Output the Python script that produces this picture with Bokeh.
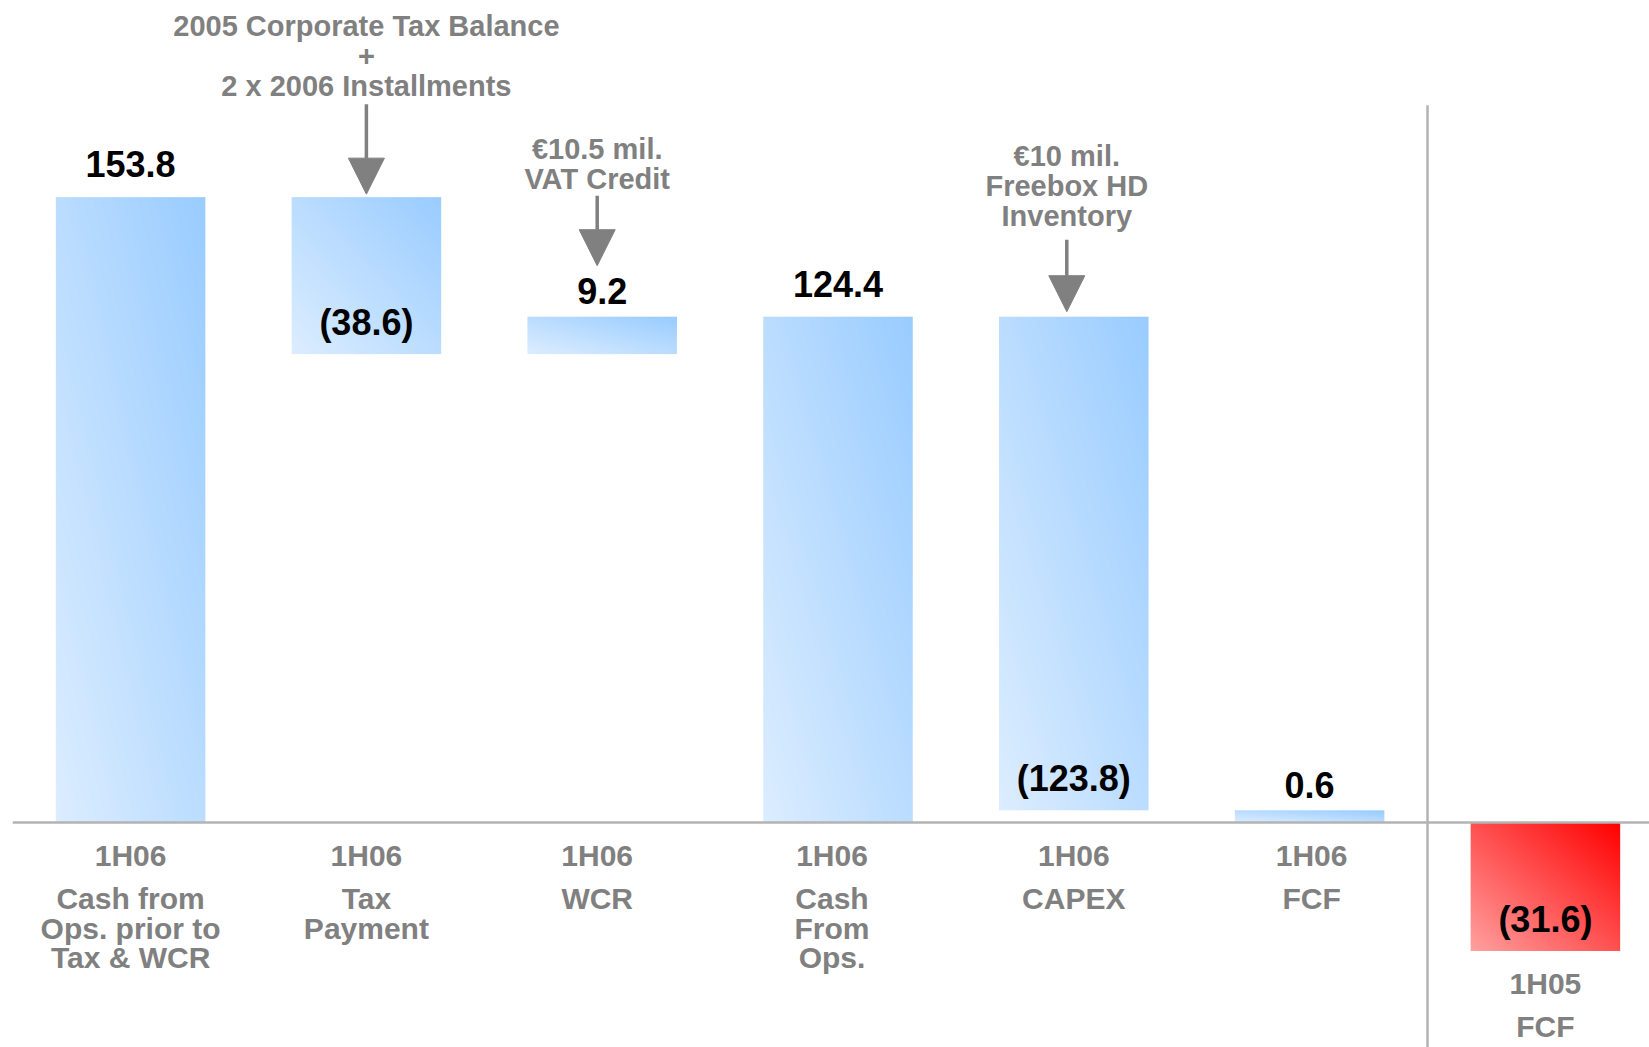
import numpy as np
from bokeh.plotting import figure
from bokeh.models import Range1d, Arrow, NormalHead, ColumnDataSource
from bokeh.core.properties import value
from bokeh.embed import file_html
from bokeh.resources import INLINE

# ---------------- data ----------------
periods = ["1H06", "1H06", "1H06", "1H06", "1H06", "1H06", "1H05"]
categories = [
    ["Cash from", "Ops. prior to", "Tax & WCR"],
    ["Tax", "Payment"],
    ["WCR"],
    ["Cash", "From", "Ops."],
    ["CAPEX"],
    ["FCF"],
    ["FCF"],
]
values = [153.8, -38.6, 9.2, 124.4, -123.8, 0.6, -31.6]
kinds = ["total", "step", "step", "total", "step", "total", "prior"]
value_labels = ["153.8", "(38.6)", "9.2", "124.4", "(123.8)", "0.6", "(31.6)"]

note_targets = [1, 2, 4]
note_texts = [
    ["2005 Corporate Tax Balance", "+", "2 x 2006 Installments"],
    ["\u20ac10.5 mil.", "VAT Credit"],
    ["\u20ac10 mil.", "Freebox HD", "Inventory"],
]

# ---------------- layout / style ----------------
W, H = 1649, 1047
PX_X, X0 = 235.8, 130.1      # px per category, px of first category
PX_Y, Y0 = 4.066, 822.0      # px per unit, px of zero line from top
BW = 0.634                   # bar width (category units)
MIN_VIS = 3.0                # min visible bar thickness
FONT = "Liberation Sans"
GRAY = "#808080"
LINE_GRAY = "#b3b3b3"
BLUE_LIGHT, BLUE_DARK = (220, 237, 255), (153, 204, 255)
RED_LIGHT, RED_DARK = (255, 160, 160), (255, 0, 0)
BASELINE_FIX = 0.4           # em correction for rendered text baseline

note_dx_px = [0, -5, -7]
note_gap_px = [3, 14, 5]
note_len_px = [90, 70, 72]
note_txt_gap_px = [6.5, 5, 12]
label_dx_px = [0, 0, -5, -6, 0, 2, 0]


def py(px):
    return px / PX_Y


def pxx(px):
    return px / PX_X


p = figure(width=W, height=H, output_backend="svg", toolbar_location=None,
           x_range=Range1d(-X0 / PX_X, (W - X0) / PX_X),
           y_range=Range1d(-(H - Y0) / PX_Y, Y0 / PX_Y),
           min_border=0, outline_line_color=None,
           background_fill_color="white", border_fill_color="white")
p.xaxis.visible = False
p.yaxis.visible = False
p.grid.visible = False

# waterfall geometry
bottoms, tops = [], []
running = 0.0
for v, k in zip(values, kinds):
    if k == "total":
        b, t = 0.0, max(v, MIN_VIS)
        running = t
    elif k == "step":
        start = running
        end = running + v
        if 0 <= end < MIN_VIS:
            end = MIN_VIS
        b, t = min(start, end), max(start, end)
        running = end
    else:
        b, t = min(0.0, v), max(0.0, v)
    bottoms.append(b)
    tops.append(t)


def gradient(w_px, h_px, light, dark):
    w = max(int(round(w_px)), 2)
    h = max(int(round(h_px)), 2)
    u = np.linspace(0, 1, w)[None, :]
    v = np.linspace(0, 1, h)[:, None]
    t = (u + v) / 2.0
    img = np.empty((h, w), dtype=np.uint32)
    view = img.view(dtype=np.uint8).reshape((h, w, 4))
    for c in range(3):
        view[:, :, c] = np.round(light[c] + (dark[c] - light[c]) * t).astype(np.uint8)
    view[:, :, 3] = 255
    return img


for i, (b, t, k) in enumerate(zip(bottoms, tops, kinds)):
    light, dark = (RED_LIGHT, RED_DARK) if k == "prior" else (BLUE_LIGHT, BLUE_DARK)
    img = gradient(BW * PX_X, (t - b) * PX_Y, light, dark)
    p.image_rgba(image=[img], x=i - BW / 2, y=b, dw=BW, dh=t - b)

# zero line and separator
xr_end = (W - X0) / PX_X
p.line(x=[-0.5, xr_end], y=[0, 0], line_color=LINE_GRAY, line_width=2.5)
sep_x = (len(values) - 2) + 0.5
p.line(x=[sep_x, sep_x], y=[-(H - Y0) / PX_Y, max(tops) + py(92)],
       line_color=LINE_GRAY, line_width=2.5)


def add_text(xs, ys, texts, color, size_px):
    fix = py(BASELINE_FIX * size_px)
    src = ColumnDataSource(dict(x=xs, y=[y + fix for y in ys], text=texts))
    p.text(x="x", y="y", text="text", source=src, text_font=value(FONT),
           text_font_style="bold", text_font_size=f"{size_px}px", text_color=color,
           text_align="center", text_baseline="alphabetic")


# value labels
vx, vy = [], []
for i, (v, b, t) in enumerate(zip(values, bottoms, tops)):
    vx.append(i)
    if v >= 0:
        gap = 18.5 if (t - b) * PX_Y > 60 else 11
        vy.append(t + py(gap))
    else:
        vy.append(b + py(17))
add_text(vx, vy, value_labels, "#000000", 36)

# category labels
cx, cy, ct = [], [], []
for i, (per, lines, b) in enumerate(zip(periods, categories, bottoms)):
    anchor = min(0.0, b)
    base = anchor - py(45)
    x = i + pxx(label_dx_px[i])
    cx.append(x); cy.append(base); ct.append(per)
    for j, ln in enumerate(lines):
        cx.append(x); cy.append(base - py(43 + 29.7 * j)); ct.append(ln)
add_text(cx, cy, ct, GRAY, 30)

# notes with arrows
nx, ny, nt = [], [], []
for n, (tg, lines) in enumerate(zip(note_targets, note_texts)):
    x = tg + pxx(note_dx_px[n])
    top_obj = tops[tg]
    if values[tg] >= 0:
        top_obj = vy[tg] + py(26)  # cap top of the value label above the bar
    tip = top_obj + py(note_gap_px[n])
    start = tip + py(note_len_px[n])
    p.add_layout(Arrow(end=NormalHead(size=36, fill_color=GRAY, line_color=GRAY, line_width=1),
                       x_start=x, y_start=start, x_end=x, y_end=tip,
                       line_color=GRAY, line_width=3.5))
    last = start + py(note_txt_gap_px[n])
    nl = len(lines)
    for j, ln in enumerate(lines):
        nx.append(x); ny.append(last + py(30 * (nl - 1 - j))); nt.append(ln)
add_text(nx, ny, nt, GRAY, 29)

open("out.html", "w").write(file_html(p, INLINE))
